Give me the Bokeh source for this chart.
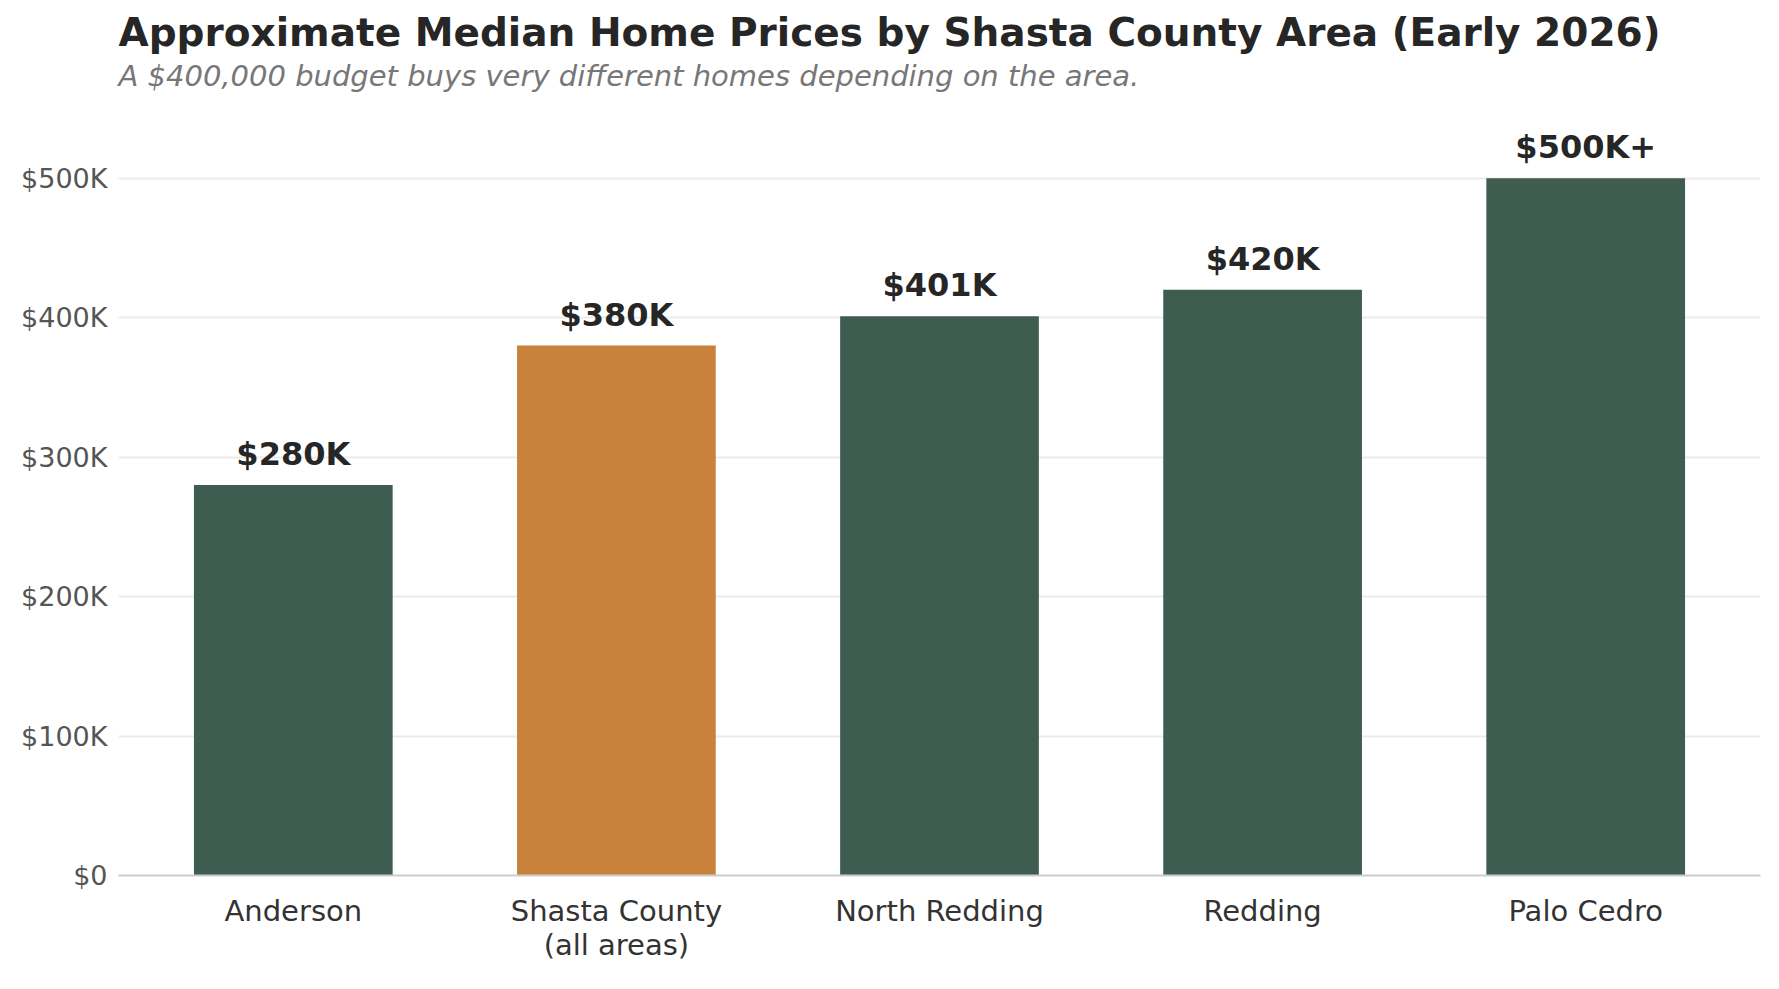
from bokeh.plotting import figure
from bokeh.models import ColumnDataSource, LabelSet, Title, FixedTicker, CustomJSTickFormatter, Range1d
from bokeh.core.properties import value
from bokeh.embed import file_html
from bokeh.resources import INLINE

areas = ["Anderson", "Shasta County\n(all areas)", "North Redding", "Redding", "Palo Cedro"]
prices = [280000, 380000, 401000, 420000, 500000]
price_labels = ["$280K", "$380K", "$401K", "$420K", "$500K+"]
highlight = ["Shasta County\n(all areas)"]
y_ticks = [0, 100000, 200000, 300000, 400000, 500000]

GREEN = "#3f5c50"
ORANGE = "#c8823c"
FONT = "DejaVu Sans"

colors = [ORANGE if a in highlight else GREEN for a in areas]
src = ColumnDataSource(dict(area=areas, price=prices, label=price_labels, color=colors))

p = figure(width=1779, height=989, x_range=areas, y_range=Range1d(0, 560000),
           output_backend="svg", toolbar_location=None, title=None,
           min_border_left=118, min_border_right=19, min_border_top=94, min_border_bottom=114)
p.x_range.range_padding = 0.0164
p.x_range.range_padding_units = "percent"
p.x_range.factor_padding = 0.0

p.vbar(x="area", top="price", width=0.615, source=src, fill_color="color", line_color=None)

labels = LabelSet(x="area", y="price", text="label", source=src, text_align="center",
                  text_baseline="alphabetic", y_offset=20, text_font=value(FONT),
                  text_font_style="bold", text_font_size="32px", text_color="#262626")
p.add_layout(labels)

p.add_layout(Title(text="A $400,000 budget buys very different homes depending on the area.",
                   text_font=FONT, text_font_style="italic", text_font_size="29px",
                   text_color="#777777", align="left", standoff=4,
                   text_line_height=0.8), "above")
p.add_layout(Title(text="Approximate Median Home Prices by Shasta County Area (Early 2026)",
                   text_font=FONT, text_font_style="bold", text_font_size="39px",
                   text_color="#262626", align="left", standoff=0), "above")

p.outline_line_color = None
p.background_fill_color = "white"
p.xgrid.grid_line_color = None
p.ygrid.grid_line_color = "#ebebeb"
p.ygrid.grid_line_width = 2

p.yaxis.ticker = FixedTicker(ticks=y_ticks)
p.yaxis.formatter = CustomJSTickFormatter(code="return tick == 0 ? '$0' : '$' + (tick/1000).toFixed(0) + 'K';")
p.yaxis.axis_line_color = None
p.yaxis.major_tick_line_color = None
p.yaxis.minor_tick_line_color = None
p.yaxis.major_label_text_font = FONT
p.yaxis.major_label_text_font_size = "27px"
p.yaxis.major_label_text_color = "#555555"
p.yaxis.major_label_standoff = 5

p.xaxis.axis_line_color = "#cccccc"
p.xaxis.axis_line_width = 2
p.xaxis.major_tick_line_color = None
p.xaxis.minor_tick_line_color = None
p.xaxis.major_label_text_font = FONT
p.xaxis.major_label_text_font_size = "29px"
p.xaxis.major_label_text_color = "#333333"
p.xaxis.major_label_text_line_height = 1.0
p.xaxis.major_label_standoff = 12

open("out.html", "w").write(file_html(p, INLINE))
